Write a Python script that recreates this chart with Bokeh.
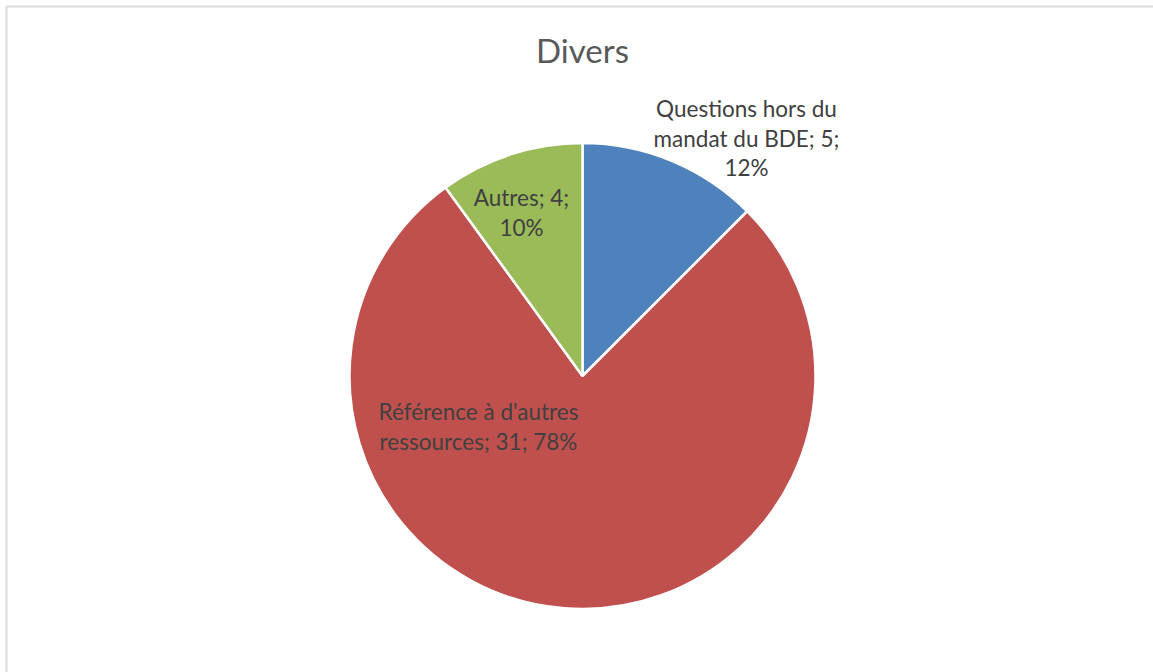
import math

from bokeh.core.properties import value
from bokeh.embed import file_html
from bokeh.models import ColumnDataSource, Range1d
from bokeh.plotting import figure
from bokeh.resources import INLINE

# Chart data
title = "Divers"
categories = ["Questions hors du mandat du BDE", "Référence à d'autres ressources", "Autres"]
counts = [5, 31, 4]
colors = ["#4f81bd", "#c0504d", "#9bbb59"]
# number of words on each line of the data labels
label_wraps = [[3, 4, 1], [3, 3], [2, 1]]

W, H = 1153, 672
FONT = "Lato"

p = figure(width=W, height=H, output_backend="svg", toolbar_location=None,
           x_range=Range1d(0, W), y_range=Range1d(0, H),
           min_border=0, min_border_left=0, min_border_right=0,
           min_border_top=0, min_border_bottom=0)
p.axis.visible = False
p.grid.visible = False
p.outline_line_color = None
p.background_fill_color = "white"
p.border_fill_color = "white"

def sy(y):
    """screen y (from top) -> data y"""
    return H - y

# chart area frame (top and left edges)
p.line([6, 6, W], [0, sy(6), sy(6)], line_color="#d9d9d9", line_width=2)

# pie
cx, cy, r = 582, sy(375.5), 233
total = sum(counts)
starts, ends, cum = [], [], 0
for n in counts:
    starts.append(math.pi / 2 - 2 * math.pi * cum / total)
    cum += n
    ends.append(math.pi / 2 - 2 * math.pi * cum / total)

src = ColumnDataSource(dict(x=[cx] * len(counts), y=[cy] * len(counts),
                            start=starts, end=ends, color=colors))
p.wedge(x="x", y="y", radius=r, start_angle="start", end_angle="end",
        direction="clock", fill_color="color", line_color="white",
        line_width=2.5, source=src)

# data labels: "category; value; percent"
label_pos = [(746, 108), (478, 411), (521, 197)]
line_step = 29.5
lx, ly, lt = [], [], []
for cat, n, wraps, (x0, y0) in zip(categories, counts, label_wraps, label_pos):
    pct = round(100 * n / total)
    words = f"{cat}; {n}; {pct}%".split(" ")
    i = 0
    for k, w in enumerate(wraps):
        lt.append(" ".join(words[i:i + w]))
        i += w
        lx.append(x0)
        ly.append(sy(y0 + k * line_step))

p.text(x=lx, y=ly, text=lt, text_font=value(FONT), text_font_size="22.5px",
       text_color="#404040", text_align="center", text_baseline="middle")

# title
p.text(x=[582], y=[sy(49)], text=[title], text_font=value(FONT),
       text_font_size="33px", text_color="#595959", text_align="center",
       text_baseline="middle")

open("out.html", "w").write(file_html(p, INLINE))
